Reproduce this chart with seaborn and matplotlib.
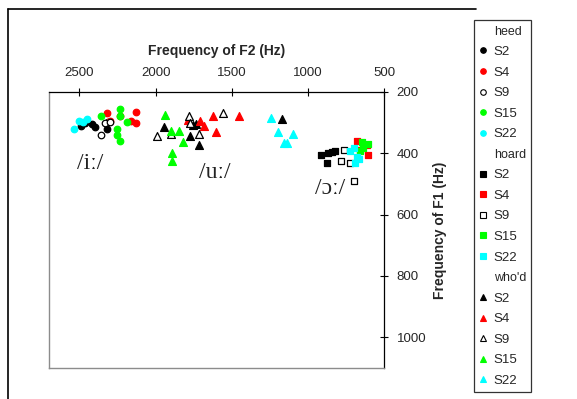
import matplotlib
matplotlib.use("Agg")
import matplotlib.pyplot as plt
from matplotlib.lines import Line2D
import seaborn as sns
import pandas as pd

# ---- data (F2, F1 in Hz) ----
words = ["heed", "hoard", "who'd"]
speakers = ["S2", "S4", "S9", "S15", "S22"]

heed_S2_F2 = [2487, 2461, 2415, 2395, 2316, 2310]
heed_S2_F1 = [311, 302, 305, 315, 321, 298]
heed_S4_F2 = [2316, 2297, 2231, 2126, 2159, 2126]
heed_S4_F1 = [269, 295, 279, 266, 295, 302]
heed_S9_F2 = [2356, 2330, 2297]
heed_S9_F1 = [341, 302, 298]
heed_S15_F2 = [2356, 2231, 2231, 2185, 2251, 2251, 2231]
heed_S15_F1 = [279, 256, 279, 298, 321, 341, 361]
heed_S22_F2 = [2539, 2474, 2448, 2500]
heed_S22_F1 = [321, 298, 289, 295]

hoard_S2_F2 = [913, 874, 867, 841, 821]
hoard_S2_F1 = [407, 430, 400, 397, 393]
hoard_S4_F2 = [677, 612, 605, 658]
hoard_S4_F1 = [361, 374, 407, 390]
hoard_S9_F2 = [762, 782, 723, 697]
hoard_S9_F1 = [390, 426, 430, 489]
hoard_S15_F2 = [646, 638, 605, 658]
hoard_S15_F1 = [364, 384, 371, 393]
hoard_S22_F2 = [723, 697, 677, 664, 690]
hoard_S22_F1 = [393, 384, 413, 420, 430]

whod_S2_F2 = [1943, 1752, 1733, 1772, 1713, 1169]
whod_S2_F1 = [315, 308, 305, 344, 374, 289]
whod_S4_F2 = [1785, 1707, 1680, 1621, 1602, 1451]
whod_S4_F1 = [292, 295, 311, 279, 331, 279]
whod_S9_F2 = [1989, 1897, 1779, 1772, 1713, 1556]
whod_S9_F1 = [344, 338, 279, 302, 338, 269]
whod_S15_F2 = [1936, 1897, 1844, 1818, 1890, 1890]
whod_S15_F1 = [275, 328, 328, 364, 400, 426]
whod_S22_F2 = [1241, 1195, 1097, 1156, 1136]
whod_S22_F1 = [285, 331, 338, 367, 367]

xticks = [2500, 2000, 1500, 1000, 500]
yticks = [200, 400, 600, 800, 1000]
vowel_labels = ["/iː/", "/uː/", "/ɔː/"]

series = {
    ("heed", "S2"): (heed_S2_F2, heed_S2_F1),
    ("heed", "S4"): (heed_S4_F2, heed_S4_F1),
    ("heed", "S9"): (heed_S9_F2, heed_S9_F1),
    ("heed", "S15"): (heed_S15_F2, heed_S15_F1),
    ("heed", "S22"): (heed_S22_F2, heed_S22_F1),
    ("hoard", "S2"): (hoard_S2_F2, hoard_S2_F1),
    ("hoard", "S4"): (hoard_S4_F2, hoard_S4_F1),
    ("hoard", "S9"): (hoard_S9_F2, hoard_S9_F1),
    ("hoard", "S15"): (hoard_S15_F2, hoard_S15_F1),
    ("hoard", "S22"): (hoard_S22_F2, hoard_S22_F1),
    ("who'd", "S2"): (whod_S2_F2, whod_S2_F1),
    ("who'd", "S4"): (whod_S4_F2, whod_S4_F1),
    ("who'd", "S9"): (whod_S9_F2, whod_S9_F1),
    ("who'd", "S15"): (whod_S15_F2, whod_S15_F1),
    ("who'd", "S22"): (whod_S22_F2, whod_S22_F1),
}

rows = []
for (w, s), (f2, f1) in series.items():
    for a, b in zip(f2, f1):
        rows.append({"word": w, "speaker": s, "F2": a, "F1": b})
df = pd.DataFrame(rows)

# ---- styling ----
sns.set_theme(style="white")
plt.rcParams["font.family"] = ["Liberation Sans", "DejaVu Sans"]

word_marker = {"heed": "o", "hoard": "s", "who'd": "^"}
word_size = {"heed": 22, "hoard": 20, "who'd": 32}
spk_face = {"S2": "#000000", "S4": "#FF0000", "S9": "#FFFFFF", "S15": "#00FF00", "S22": "#00FFFF"}
spk_edge = {"S2": "#000000", "S4": "#FF0000", "S9": "#000000", "S15": "#00FF00", "S22": "#00FFFF"}

fig = plt.figure(figsize=(5.77, 3.99), dpi=100)
ax = fig.add_axes([49 / 577, 1 - 368 / 399, (384 - 49) / 577, (368 - 92) / 399])

for w in words:
    for s in speakers:
        sub = df[(df["word"] == w) & (df["speaker"] == s)]
        sns.scatterplot(data=sub, x="F2", y="F1", ax=ax, marker=word_marker[w],
                        s=word_size[w], color=spk_face[s], edgecolor=spk_edge[s],
                        linewidth=0.9, legend=False, zorder=3)

ax.set_xlim(2700, 500)
ax.set_ylim(1100, 200)
ax.xaxis.tick_top()
ax.yaxis.tick_right()
ax.xaxis.set_label_position("top")
ax.yaxis.set_label_position("right")
ax.set_xticks(xticks)
ax.set_xticklabels([str(v) for v in xticks])
ax.set_yticks(yticks)
ax.set_yticklabels([str(v) for v in yticks])
ax.tick_params(axis="x", direction="inout", length=6, width=0.8, color="black",
               labelsize=9.5, pad=6, top=True, bottom=False)
ax.tick_params(axis="y", direction="inout", length=6, width=0.8, color="black",
               labelsize=9.5, pad=6, right=True, left=False)
ax.set_xlabel("Frequency of F2 (Hz)", fontsize=10, fontweight="bold", labelpad=9)
ax.set_ylabel("Frequency of F1 (Hz)", fontsize=10, fontweight="bold", labelpad=5)
for side in ["left", "bottom"]:
    ax.spines[side].set_color("#8c8c8c")
    ax.spines[side].set_linewidth(1.0)
for side in ["top", "right"]:
    ax.spines[side].set_color("black")
    ax.spines[side].set_linewidth(0.9)

# vowel labels
lab_pos = [(2428, 433), (1608, 462), (854, 515)]
for txt, (x, y) in zip(vowel_labels, lab_pos):
    ax.text(x, y, txt, fontsize=17, family=["Liberation Serif", "DejaVu Serif"],
            ha="center", va="center", color="#222222")

# legend
handles, labels = [], []
for w in words:
    handles.append(Line2D([], [], linestyle="none", marker=None))
    labels.append(w)
    for s in speakers:
        handles.append(Line2D([], [], linestyle="none", marker=word_marker[w],
                              markersize=4 if w != "who'd" else 5,
                              markerfacecolor=spk_face[s], markeredgecolor=spk_edge[s],
                              markeredgewidth=0.8))
        labels.append(s)
leg = fig.legend(handles, labels, loc="upper left",
                 bbox_to_anchor=(474 / 577, 1 - 20 / 399), bbox_transform=fig.transFigure,
                 frameon=True, fancybox=False, fontsize=9.5, handlelength=0.6,
                 handletextpad=0.5, labelspacing=0.63, borderpad=0.4,
                 borderaxespad=0)
leg.get_frame().set_edgecolor("black")
leg.get_frame().set_linewidth(0.9)
for t, l in zip(leg.get_texts(), labels):
    if l in words:
        t.set_fontsize(9)

# outer chart-area border (left and top edges visible)
fig.add_artist(Line2D([8 / 577, 8 / 577], [0, 1 - 9 / 399], color="black", lw=1.2,
                      transform=fig.transFigure))
fig.add_artist(Line2D([8 / 577, 476 / 577], [1 - 9 / 399, 1 - 9 / 399], color="black",
                      lw=1.2, transform=fig.transFigure))

fig.savefig("out.png", dpi=100)
